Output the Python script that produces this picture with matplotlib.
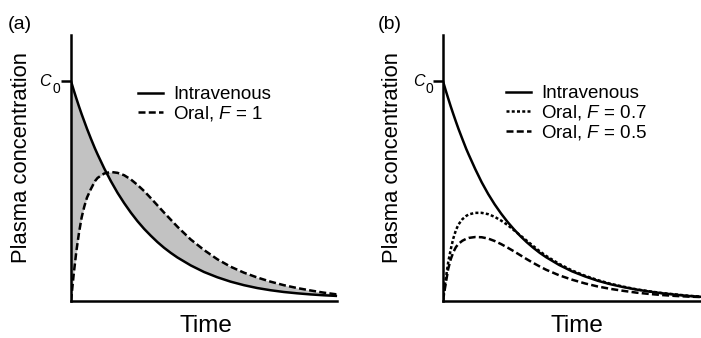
import matplotlib
matplotlib.use("Agg")
import matplotlib.pyplot as plt

plt.rcParams['font.family'] = ['Liberation Sans', 'DejaVu Sans']
plt.rcParams['mathtext.fontset'] = 'custom'
plt.rcParams['mathtext.rm'] = 'Liberation Sans'
plt.rcParams['mathtext.it'] = 'Liberation Sans:italic'

# ---- data (C0 = 1, time in arbitrary units) ----
time_pts = [0, 0.05, 0.1, 0.2, 0.3, 0.4, 0.5, 0.6, 0.75, 0.9, 1.0, 1.25, 1.5,
            1.75, 2.0, 2.25, 2.5, 2.75, 3.0, 3.25, 3.5, 3.75, 4.0, 4.5, 5.0,
            5.5, 6.0, 6.5, 7.0, 7.5, 8.0, 8.5, 9.0, 9.5, 10.0]

iv_a = [1.0, 0.98, 0.96, 0.922, 0.885, 0.85, 0.817, 0.784, 0.738, 0.694, 0.667,
        0.603, 0.545, 0.492, 0.445, 0.402, 0.363, 0.328, 0.297, 0.268, 0.242,
        0.219, 0.198, 0.162, 0.132, 0.108, 0.088, 0.072, 0.059, 0.049, 0.041,
        0.035, 0.030, 0.026, 0.023]
oral_a = [0.0, 0.06, 0.12, 0.225, 0.31, 0.38, 0.43, 0.47, 0.51, 0.545, 0.56,
          0.58, 0.587, 0.583, 0.572, 0.553, 0.528, 0.50, 0.468, 0.435, 0.402,
          0.37, 0.338, 0.28, 0.232, 0.19, 0.156, 0.129, 0.107, 0.088, 0.072,
          0.059, 0.048, 0.038, 0.030]

iv_b = [1.0, 0.98, 0.96, 0.922, 0.885, 0.85, 0.816, 0.783, 0.737, 0.692, 0.665,
        0.60, 0.54, 0.487, 0.44, 0.398, 0.36, 0.326, 0.295, 0.267, 0.242,
        0.219, 0.199, 0.164, 0.135, 0.112, 0.092, 0.076, 0.063, 0.052, 0.043,
        0.035, 0.029, 0.023, 0.019]
oral_b_07 = [0.0, 0.05, 0.095, 0.175, 0.235, 0.285, 0.322, 0.348, 0.372, 0.387,
             0.394, 0.401, 0.401, 0.395, 0.383, 0.366, 0.346, 0.322, 0.298,
             0.274, 0.25, 0.226, 0.205, 0.169, 0.139, 0.115, 0.095, 0.078,
             0.065, 0.053, 0.044, 0.036, 0.030, 0.024, 0.020]
oral_b_05 = [0.0, 0.04, 0.075, 0.145, 0.19, 0.222, 0.245, 0.26, 0.274, 0.283,
             0.287, 0.291, 0.29, 0.284, 0.273, 0.259, 0.243, 0.226, 0.208,
             0.19, 0.173, 0.157, 0.142, 0.117, 0.097, 0.080, 0.066, 0.055,
             0.046, 0.038, 0.032, 0.027, 0.023, 0.020, 0.018]

c0_value = 1.0
labels_a = ['Intravenous', 'Oral, $F$ = 1']
labels_b = ['Intravenous', 'Oral, $F$ = 0.7', 'Oral, $F$ = 0.5']
panel_tags = ['(a)', '(b)']
c0_main, c0_sub = 'C', '0'
xlabel = 'Time'
ylabel = 'Plasma concentration'

W, H = 701, 338
fig = plt.figure(figsize=(W / 100, H / 100), dpi=100)

def px_axes(x0, x1, ytop, ybot):
    return fig.add_axes([x0 / W, 1 - ybot / H, (x1 - x0) / W, (ybot - ytop) / H])

def fx(x):
    return x / W

def fy(y):
    return 1 - y / H

ax_a = px_axes(71, 337, 35, 301)
ax_b = px_axes(443, 701, 35, 301)

LW = 1.8
dash = (2.8, 1.3)
dot = (1.2, 0.9)
LEG_FS = 13.5

for ax in (ax_a, ax_b):
    ax.set_xlim(0, 10)
    ax.set_ylim(0, 1.21)
    for s in ('top', 'right'):
        ax.spines[s].set_visible(False)
    for s in ('left', 'bottom'):
        ax.spines[s].set_linewidth(LW)
        ax.spines[s].set_capstyle('projecting')
    ax.set_xticks([])
    ax.set_yticks([c0_value])
    ax.set_yticklabels([''])
    ax.tick_params(axis='y', length=7, width=LW)

# C0 tick labels: italic C with a large subscript 0
for ax, xr in ((ax_a, 51), (ax_b, 425)):
    tr = ax.get_yaxis_transform()
    ybase = ax.transData.transform((0, c0_value))[1]
    fig.text(fx(xr), (ybase - 5) / H, c0_main, fontsize=11.5, style='italic',
             ha='right', va='baseline')
    fig.text(fx(xr + 1), (ybase - 12) / H, c0_sub, fontsize=10,
             ha='left', va='baseline')

# axis titles (placed in figure pixels to match the reference)
for xc in (206, 577):
    fig.text(fx(xc), fy(332), xlabel, fontsize=17.5, ha='center', va='baseline')
for xc in (22, 392):
    fig.text(fx(xc), fy(158), ylabel, fontsize=15.8, ha='center', va='center',
             rotation=90)

# panel a
ax_a.fill_between(time_pts, iv_a, oral_a, color='#c2c2c2', lw=0, zorder=1)
ax_a.plot(time_pts, iv_a, color='black', lw=LW, label=labels_a[0], zorder=3)
ax_a.plot(time_pts, oral_a, color='black', lw=LW, dashes=dash, label=labels_a[1],
          zorder=3)
ax_a.legend(loc='upper left', bbox_to_anchor=(0.252, 0.808), frameon=False,
            fontsize=LEG_FS, handlelength=1.33, handletextpad=0.53,
            labelspacing=0.06, borderpad=0, borderaxespad=0)

# panel b
ax_b.plot(time_pts, iv_b, color='black', lw=LW, label=labels_b[0], zorder=3)
ax_b.plot(time_pts, oral_b_07, color='black', lw=LW, dashes=dot, label=labels_b[1],
          zorder=3)
ax_b.plot(time_pts, oral_b_05, color='black', lw=LW, dashes=dash, label=labels_b[2],
          zorder=3)
ax_b.legend(loc='upper left', bbox_to_anchor=(0.244, 0.812), frameon=False,
            fontsize=LEG_FS, handlelength=1.33, handletextpad=0.53,
            labelspacing=0.06, borderpad=0, borderaxespad=0)

fig.text(fx(8), fy(29), panel_tags[0], fontsize=14, va='baseline', ha='left')
fig.text(fx(378), fy(29), panel_tags[1], fontsize=14, va='baseline', ha='left')

fig.savefig('out.png', dpi=100)
